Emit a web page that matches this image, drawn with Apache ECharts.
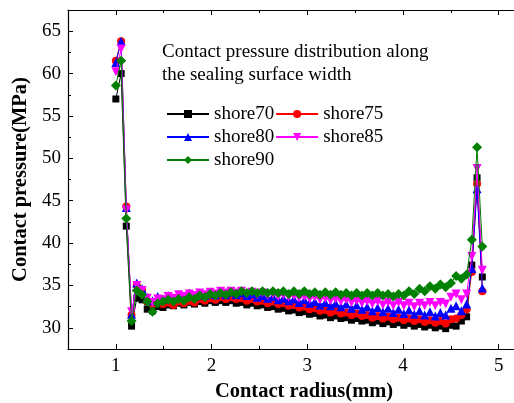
<!DOCTYPE html>
<html>
<head>
<meta charset="utf-8">
<script src="https://cdn.jsdelivr.net/npm/echarts@6/dist/echarts.min.js"></script>
<style>
  html, body { margin: 0; padding: 0; background: #fff; }
  #chart { width: 514px; height: 403px; }
</style>
</head>
<body>
<div id="chart"></div>
<script>
// Radial positions along the sealing surface (mm)
var radius = [
  1.000, 1.055, 1.109, 1.164, 1.219, 1.274, 1.328, 1.383, 1.438, 1.492,
  1.547, 1.602, 1.656, 1.711, 1.766, 1.821, 1.875, 1.930, 1.985, 2.039,
  2.094, 2.149, 2.203, 2.258, 2.313, 2.368, 2.422, 2.477, 2.532, 2.586,
  2.641, 2.696, 2.750, 2.805, 2.860, 2.915, 2.969, 3.024, 3.079, 3.133,
  3.188, 3.243, 3.297, 3.352, 3.407, 3.462, 3.516, 3.571, 3.626, 3.680,
  3.735, 3.790, 3.844, 3.899, 3.954, 4.009, 4.063, 4.118, 4.173, 4.227,
  4.282, 4.337, 4.391, 4.446, 4.501, 4.555, 4.610, 4.665, 4.719, 4.774,
  4.829
];

// Contact pressure (MPa) for each rubber hardness
var shore70 = [
  57.0, 60.0, 42.0, 30.2, 33.5, 33.3, 32.2, 32.0, 32.5, 32.4, 32.7,
  32.6, 32.9, 32.7, 33.0, 32.8, 33.1, 32.9, 33.2, 33.0, 33.2,
  33.0, 33.2, 32.9, 33.0, 32.7, 32.9, 32.6, 32.7, 32.4, 32.5,
  32.2, 32.3, 32.0, 32.1, 31.8, 31.9, 31.6, 31.7, 31.4, 31.5,
  31.2, 31.4, 31.1, 31.2, 30.9, 31.1, 30.8, 30.9, 30.6, 30.8,
  30.5, 30.7, 30.4, 30.6, 30.3, 30.5, 30.2, 30.4, 30.1, 30.3,
  30.0, 30.2, 29.9, 30.3, 30.2, 30.8, 31.3, 37.4, 47.7, 36.0
];
var shore75 = [
  61.5, 63.8, 44.3, 31.5, 35.0, 34.5, 33.1, 32.8, 33.0, 32.8, 33.0,
  32.7, 33.1, 32.9, 33.2, 33.0, 33.4, 33.2, 33.5, 33.3, 33.6,
  33.4, 33.6, 33.4, 33.5, 33.2, 33.4, 33.1, 33.2, 32.9, 33.1,
  32.8, 32.9, 32.6, 32.7, 32.4, 32.5, 32.2, 32.3, 32.0, 32.1,
  31.8, 32.0, 31.7, 31.8, 31.5, 31.7, 31.4, 31.5, 31.2, 31.4,
  31.1, 31.3, 31.0, 31.2, 30.9, 31.1, 30.8, 31.0, 30.7, 30.9,
  30.6, 30.8, 30.5, 31.0, 31.1, 31.5, 32.2, 36.6, 47.0, 34.3
];
var shore80 = [
  61.3, 63.8, 44.2, 31.6, 35.3, 34.6, 33.6, 33.2, 33.7, 33.4, 33.8,
  33.5, 33.9, 33.6, 34.1, 33.7, 34.1, 33.8, 34.2, 33.9, 34.2,
  33.9, 34.2, 33.9, 34.1, 33.8, 34.0, 33.6, 33.8, 33.5, 33.7,
  33.3, 33.5, 33.2, 33.4, 33.0, 33.3, 32.9, 33.1, 32.7, 33.0,
  32.6, 32.9, 32.5, 32.8, 32.3, 32.7, 32.2, 32.5, 32.0, 32.4,
  31.9, 32.3, 31.8, 32.2, 31.7, 32.1, 31.6, 32.0, 31.5, 31.9,
  31.4, 31.8, 31.5, 32.3, 32.6, 32.0, 32.8, 37.0, 46.4, 34.7
];
var shore85 = [
  60.2, 62.9, 43.9, 31.9, 35.0, 34.4, 33.5, 33.0, 33.4, 33.3, 33.7,
  33.5, 33.9, 33.7, 34.0, 33.8, 34.1, 33.9, 34.2, 34.0, 34.3,
  34.1, 34.3, 34.1, 34.3, 34.0, 34.2, 33.9, 34.1, 33.8, 34.0,
  33.7, 33.9, 33.6, 33.8, 33.5, 33.7, 33.4, 33.6, 33.3, 33.5,
  33.2, 33.4, 33.1, 33.3, 33.0, 33.2, 32.9, 33.1, 32.8, 33.1,
  32.7, 33.0, 32.6, 33.0, 32.6, 32.9, 32.5, 32.9, 32.6, 33.0,
  32.6, 33.0, 32.8, 33.6, 34.0, 33.3, 34.0, 38.4, 48.8, 36.8
];
var shore90 = [
  58.6, 61.5, 42.9, 30.8, 34.4, 33.9, 33.1, 31.9, 32.9, 33.1, 33.3,
  33.1, 33.4, 33.2, 33.6, 33.4, 33.8, 33.6, 34.0, 33.8, 34.1,
  33.9, 34.2, 34.0, 34.3, 34.1, 34.3, 34.1, 34.3, 34.1, 34.3,
  34.1, 34.3, 34.0, 34.3, 34.0, 34.3, 34.0, 34.2, 33.9, 34.2,
  33.9, 34.2, 33.9, 34.1, 33.8, 34.1, 33.8, 34.1, 33.8, 34.1,
  33.8, 34.0, 33.7, 34.0, 33.8, 34.3, 34.0, 34.6, 34.3, 34.9,
  34.6, 35.1, 34.8, 35.3, 36.1, 35.8, 36.3, 40.4, 51.3, 39.6
];

var seriesNames = ['shore70', 'shore75', 'shore80', 'shore85', 'shore90'];
var seriesValues = [shore70, shore75, shore80, shore85, shore90];

// Tick positions
var xMajorTicks = [1, 2, 3, 4, 5];
var yMajorTicks = [30, 35, 40, 45, 50, 55, 60, 65];

var FONT = "'Liberation Serif', 'Times New Roman', serif";

var markerStyles = [
  { color: '#000000', symbol: 'rect', size: 7, rotate: 0 },
  { color: '#ff0000', symbol: 'circle', size: 8, rotate: 0 },
  { color: '#0000ff', symbol: 'triangle', size: 9, rotate: 0 },
  { color: '#ff00ff', symbol: 'triangle', size: 9, rotate: 180 },
  { color: '#008000', symbol: 'diamond', size: 10, rotate: 0 }
];

function pairs(values) {
  return values.map(function (v, i) { return [radius[i], v]; });
}

var X_MIN = 0.5, X_MAX = 5.16, Y_MIN = 27.5, Y_MAX = 67.5;
var axisColor = '#000';

function xAxisPair(position, withLabels) {
  return [
    {
      type: 'value', position: position, gridIndex: 0,
      min: X_MIN, max: X_MAX, interval: 0.5,
      axisLine: { show: true, onZero: false, lineStyle: { color: axisColor, width: 1.2 } },
      axisTick: { show: true, inside: true, length: 3, lineStyle: { color: axisColor, width: 1 } },
      axisLabel: withLabels ? {
        show: true, margin: 8, color: '#000', fontFamily: FONT, fontSize: 19,
        formatter: function (v) { return Math.abs(v - Math.round(v)) < 1e-6 ? String(Math.round(v)) : ''; }
      } : { show: false },
      splitLine: { show: false },
      name: withLabels ? 'Contact radius(mm)' : '',
      nameLocation: 'middle', nameGap: 24,
      nameTextStyle: { fontFamily: FONT, fontSize: 20.5, fontWeight: 'bold', color: '#000', padding: [0, 0, 0, 26] }
    },
    {
      type: 'value', position: position, gridIndex: 0,
      min: X_MIN, max: X_MAX,
      axisLine: { show: false, onZero: false },
      axisTick: { show: true, inside: true, length: 5, customValues: xMajorTicks, lineStyle: { color: axisColor, width: 1 } },
      axisLabel: { show: false },
      splitLine: { show: false }
    }
  ];
}

var option = {
  backgroundColor: '#ffffff',
  animation: false,
  title: {
    text: 'Contact pressure distribution along\nthe sealing surface width',
    left: 162, top: 41, padding: 0,
    textStyle: { fontFamily: FONT, fontSize: 19, fontWeight: 'normal', color: '#000', lineHeight: 23 }
  },
  legend: {
    data: seriesNames,
    left: 166, top: 103, width: 220,
    orient: 'horizontal',
    itemWidth: 42, itemHeight: 10, itemGap: 1, padding: 0,
    textStyle: { fontFamily: FONT, fontSize: 19, color: '#000', lineHeight: 22 }
  },
  grid: { left: 68, right: 0, top: 10, bottom: 54, containLabel: false, outerBoundsMode: 'none' },
  xAxis: xAxisPair('bottom', true).concat(xAxisPair('top', false)),
  yAxis: [
    {
      type: 'value', position: 'left',
      min: Y_MIN, max: Y_MAX, interval: 2.5,
      axisLine: { show: true, onZero: false, lineStyle: { color: axisColor, width: 1.2 } },
      axisTick: { show: true, inside: true, length: 3, lineStyle: { color: axisColor, width: 1 } },
      axisLabel: {
        show: true, margin: 7, color: '#000', fontFamily: FONT, fontSize: 19,
        formatter: function (v) { return Math.abs(v % 5) < 1e-6 ? String(v) : ''; }
      },
      splitLine: { show: false },
      name: 'Contact pressure(MPa)',
      nameLocation: 'middle', nameGap: 34, nameRotate: 90,
      nameTextStyle: { fontFamily: FONT, fontSize: 20.5, fontWeight: 'bold', color: '#000' }
    },
    {
      type: 'value', position: 'left',
      min: Y_MIN, max: Y_MAX,
      axisLine: { show: false, onZero: false },
      axisTick: { show: true, inside: true, length: 5, customValues: yMajorTicks, lineStyle: { color: axisColor, width: 1 } },
      axisLabel: { show: false },
      splitLine: { show: false }
    }
  ],
  series: seriesNames.map(function (name, k) {
    var m = markerStyles[k];
    return {
      name: name,
      type: 'line',
      xAxisIndex: 0, yAxisIndex: 0,
      data: pairs(seriesValues[k]),
      symbol: m.symbol,
      symbolSize: m.size,
      symbolRotate: m.rotate,
      showAllSymbol: true,
      color: m.color,
      lineStyle: { color: m.color, width: 1 },
      itemStyle: { color: m.color },
      z: 2 + k
    };
  })
};

var chart = echarts.init(document.getElementById('chart'), null, { renderer: 'canvas' });
chart.setOption(option);
</script>
</body>
</html>
